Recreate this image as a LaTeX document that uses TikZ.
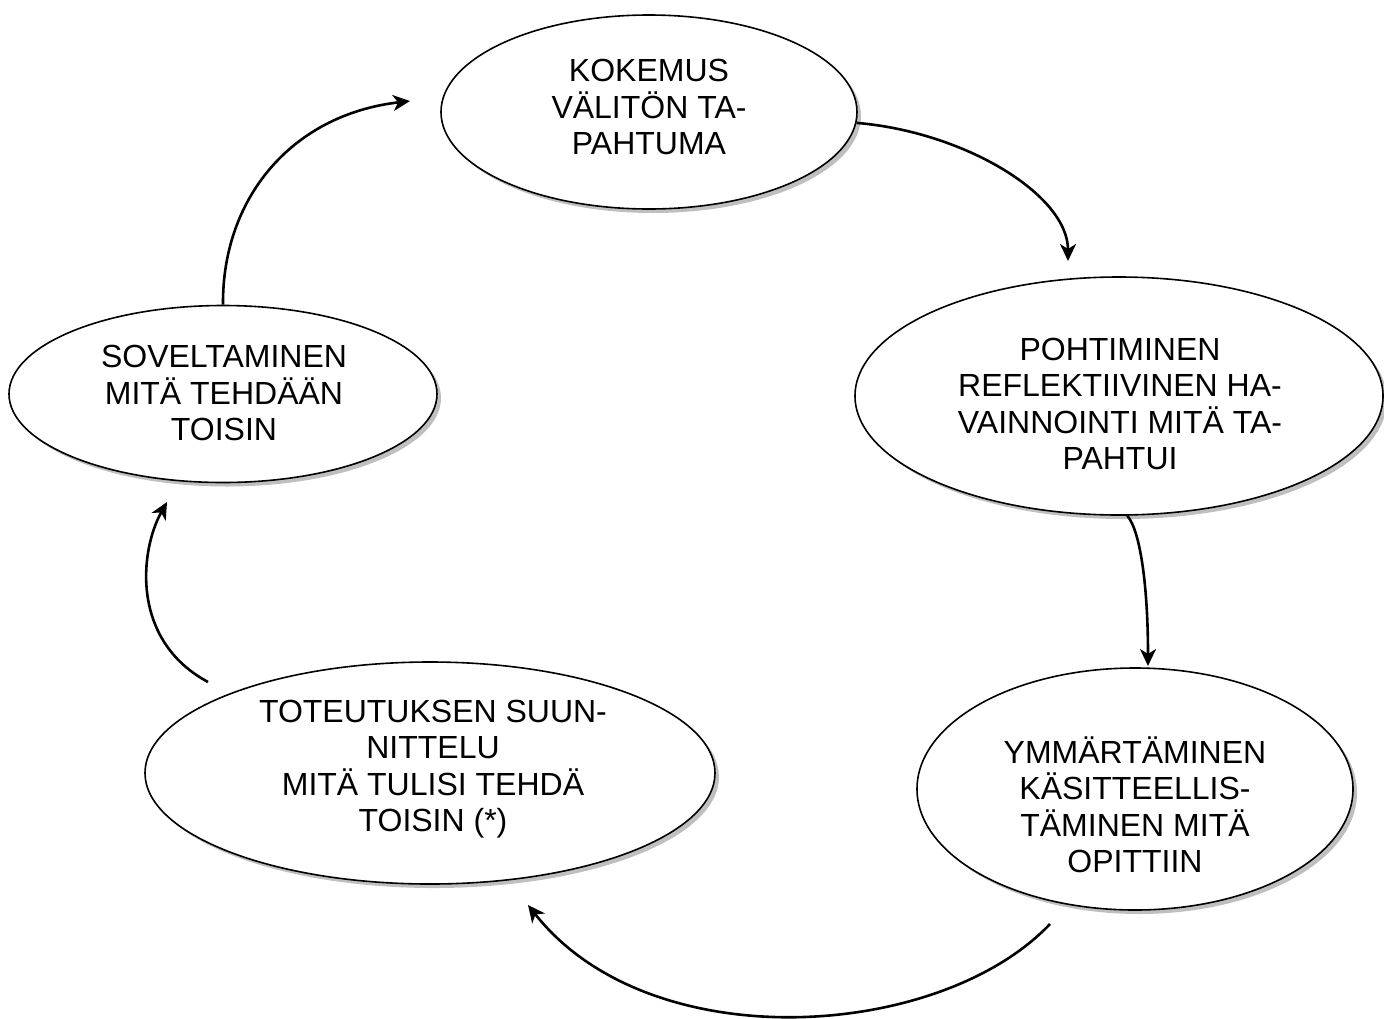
\documentclass[tikz,border=0pt]{standalone}
\usepackage{fontspec}
\setmainfont{Liberation Sans}
\usetikzlibrary{shapes.geometric,arrows.meta,shadows}

\tikzset{
  bubble/.style={ellipse, draw=black, line width=1.6pt, fill=white, inner sep=0pt,
    drop shadow={shadow xshift=4pt, shadow yshift=-4pt, fill=black!25, opacity=1}},
  caption/.style={align=center, inner sep=0pt,
    font=\fontsize{32}{36.5}\selectfont},
  flow/.style={line width=2.6pt, -{Stealth[length=17pt,width=16pt,inset=5pt]}}
}

\begin{document}
\begin{tikzpicture}[x=1pt,y=-1pt]
\useasboundingbox (0,0) rectangle (1384,1018);

% cycle stages
\node[bubble, minimum width=416pt, minimum height=194pt] (k) at (649,112) {};
\node[caption] (kt) at (649,107) {KOKEMUS\\VÄLITÖN TA-\\PAHTUMA};

\node[bubble, minimum width=528pt, minimum height=238pt] (p) at (1119,396) {};
\node[caption] (pt) at (1120,404) {POHTIMINEN\\REFLEKTIIVINEN HA-\\VAINNOINTI MITÄ TA-\\PAHTUI};

\node[bubble, minimum width=436pt, minimum height=242pt] (y) at (1135,789) {};
\node[caption] (yt) at (1135,805) {YMMÄRTÄMINEN\\KÄSITTEELLIS-\\TÄMINEN MITÄ\\OPITTIIN};

\node[bubble, minimum width=570pt, minimum height=222pt] (t) at (430,773) {};
\node[caption] (tt) at (433,769) {TOTEUTUKSEN SUUN-\\NITTELU\\MITÄ TULISI TEHDÄ\\TOISIN (*)};

\node[bubble, minimum width=428pt, minimum height=177pt] (s) at (223,394) {};
\node[caption] (st) at (224,393) {SOVELTAMINEN\\MITÄ TEHDÄÄN\\TOISIN};

% free ends of the connectors
\coordinate (a1) at (1068,261);
\coordinate (a2) at (1148,666);
\coordinate (b3) at (1050,924);
\coordinate (a3) at (528,905);
\coordinate (b4) at (208,682);
\coordinate (a4) at (167,502);
\coordinate (a5) at (410,101);

% connectors
\draw[flow] (k.-3.5) .. controls (965,132) and (1068,195) .. (a1);
\draw[flow] (p.-86) .. controls (1141,532) and (1148,590) .. (a2);
\draw[flow] (b3) .. controls (940,1040) and (650,1060) .. (a3);
\draw[flow] (b4) .. controls (130,640) and (140,550) .. (a4);
\draw[flow] (s.north) .. controls (222,200) and (290,115) .. (a5);
\end{tikzpicture}
\end{document}
